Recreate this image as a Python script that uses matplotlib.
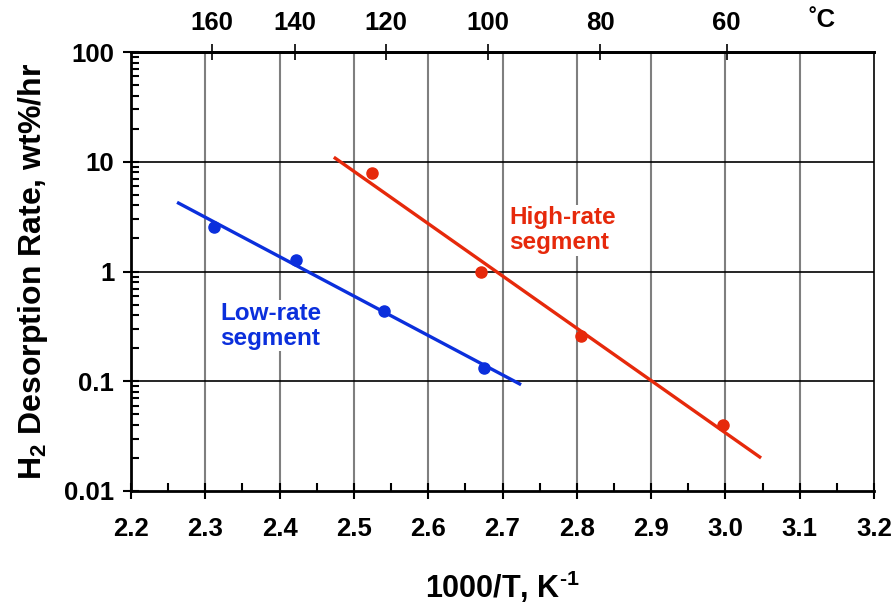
import matplotlib
matplotlib.use("Agg")
import matplotlib.pyplot as plt
import numpy as np
from matplotlib.ticker import LogLocator, FixedLocator, NullFormatter, FixedFormatter

plt.rcParams['font.family'] = ['Liberation Sans', 'DejaVu Sans']
plt.rcParams['font.weight'] = 'bold'
plt.rcParams['mathtext.fontset'] = 'custom'
plt.rcParams['mathtext.rm'] = 'Liberation Sans'
plt.rcParams['mathtext.bf'] = 'Liberation Sans:bold'

# Data
low_x = [2.312, 2.422, 2.541, 2.675]
low_y = [2.55, 1.27, 0.44, 0.133]
low_fit_x = [2.262, 2.725]
low_fit_y = [4.27, 0.093]

high_x = [2.524, 2.671, 2.806, 2.997]
high_y = [7.85, 1.0, 0.257, 0.040]
high_fit_x = [2.473, 3.048]
high_fit_y = [11.0, 0.020]

x_ticks = [2.2, 2.3, 2.4, 2.5, 2.6, 2.7, 2.8, 2.9, 3.0, 3.1, 3.2]
x_tick_labels = ['2.2', '2.3', '2.4', '2.5', '2.6', '2.7', '2.8', '2.9', '3.0', '3.1', '3.2']
y_ticks = [0.01, 0.1, 1, 10, 100]
y_tick_labels = ['0.01', '0.1', '1', '10', '100']
top_ticks_C = [160, 140, 120, 100, 80, 60]

RED = '#E6290B'
BLUE = '#0B2FDC'

fig = plt.figure(figsize=(8.93, 6.10), dpi=100)
ax = fig.add_axes([131/893, 1-491/610, (874-131)/893, (491-52)/610])

ax.set_yscale('log')
ax.set_xlim(2.2, 3.2)
ax.set_ylim(0.01, 100)

# grid
for xv in x_ticks[1:-1]:
    ax.axvline(xv, color='#7f7f7f', lw=1.5, zorder=0)
for yv in y_ticks[1:-1]:
    ax.axhline(yv, color='black', lw=1.2, zorder=0)

ax.plot(low_fit_x, low_fit_y, color=BLUE, lw=2.4, solid_capstyle='butt', zorder=3)
ax.plot(low_x, low_y, 'o', color=BLUE, ms=8, zorder=4)
ax.plot(high_fit_x, high_fit_y, color=RED, lw=2.4, solid_capstyle='butt', zorder=3)
ax.plot(high_x, high_y, 'o', color=RED, ms=8, zorder=4)

ax.text(2.32, 0.32, 'Low-rate\nsegment', color=BLUE, fontsize=17.5, fontweight='bold',
        ha='left', va='center', linespacing=1.1,
        bbox=dict(facecolor='white', edgecolor='none', pad=1), zorder=2)
ax.text(2.709, 2.38, 'High-rate\nsegment', color=RED, fontsize=17.5, fontweight='bold',
        ha='left', va='center', linespacing=1.1,
        bbox=dict(facecolor='white', edgecolor='none', pad=1), zorder=2)

# ticks
ax.xaxis.set_major_locator(FixedLocator(x_ticks))
ax.xaxis.set_major_formatter(FixedFormatter(x_tick_labels))
ax.xaxis.set_minor_locator(FixedLocator(np.arange(2.25, 3.2, 0.1)))
ax.yaxis.set_major_locator(FixedLocator(y_ticks))
ax.yaxis.set_major_formatter(FixedFormatter(y_tick_labels))
ax.yaxis.set_minor_locator(LogLocator(base=10, subs=np.arange(2, 10)))
ax.yaxis.set_minor_formatter(NullFormatter())

ax.tick_params(axis='both', which='major', direction='inout', length=12, width=1.5,
               labelsize=18.5)
ax.tick_params(axis='y', which='major', pad=6)
ax.tick_params(axis='x', which='major', pad=13)
ax.tick_params(axis='both', which='minor', direction='in', length=6, width=1.5)
ax.tick_params(top=False, right=False, which='both')

for s in ['left', 'bottom', 'top']:
    ax.spines[s].set_linewidth(2)
ax.spines['right'].set_linewidth(1.2)

# top axis in degrees C
sec = ax.secondary_xaxis('top', functions=(lambda x: 1000.0/np.asarray(x) - 273.15,
                                          lambda t: 1000.0/(np.asarray(t) + 273.15)))
sec.set_xticks(top_ticks_C)
sec.set_xticklabels([str(t) for t in top_ticks_C])
sec.tick_params(direction='inout', length=12, width=1.2, labelsize=18.5, pad=6)
sec.xaxis.set_minor_locator(FixedLocator([]))
sec.spines['top'].set_linewidth(2)
ax.text(3.13, 1.045, '˚C', transform=ax.get_xaxis_transform(), fontsize=18.5,
        fontweight='bold', ha='center', va='bottom')

ax.set_xlabel('1000/T, K$^{\\mathbf{\u2010}\\mathbf{1}}$', fontsize=22, fontweight='bold', labelpad=20)
ax.set_ylabel('H$_{\\mathbf{2}}$ Desorption Rate, wt%/hr', fontsize=23, fontweight='bold', labelpad=10)

fig.savefig('out.png', dpi=100)
